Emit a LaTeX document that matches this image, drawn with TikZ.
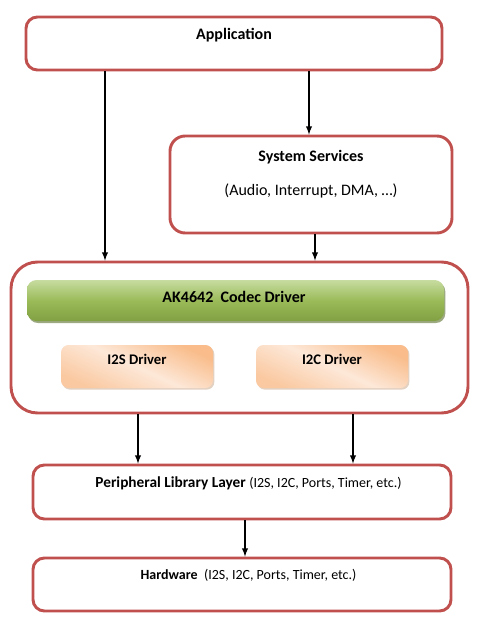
\documentclass[tikz,border=0pt]{standalone}
\usepackage{fontspec}
\setmainfont{Carlito}
\usetikzlibrary{calc,shadows}
\usetikzlibrary{arrows,shapes}

\definecolor{layerred}{RGB}{192,80,77}
\definecolor{codectop}{RGB}{198,220,160}
\definecolor{codecmid}{RGB}{155,187,89}
\definecolor{codecbot}{RGB}{128,160,66}
\definecolor{drvlight}{RGB}{253,232,216}
\definecolor{drvdark}{RGB}{249,188,138}

\tikzset{
  layer/.style={draw=layerred,line width=2.2pt,fill=white,rectangle},
  codec/.style={rectangle,rounded corners=2.5mm,top color=codectop,bottom color=codecbot,middle color=codecmid,
    drop shadow={shadow xshift=1pt,shadow yshift=-1.5pt,fill=codecbot!70!black,opacity=.6}},
  subdrv/.style={rectangle,rounded corners=2mm,top color=drvdark,bottom color=drvdark!70!drvlight,middle color=drvlight,shading angle=-25,
    drop shadow={shadow xshift=1pt,shadow yshift=-1.2pt,fill=drvdark!60!gray,opacity=.5}},
  flow/.style={-latex,line width=1.1pt,black},
  title/.style={font=\bfseries\fontsize{12}{14}\selectfont},
  note/.style={font=\fontsize{12}{14}\selectfont}
}

\begin{document}
\begin{tikzpicture}[x=0.75pt,y=-0.75pt]
    \useasboundingbox (0,0) rectangle (488,623);
    % layers
    \node [layer,rounded corners=3mm,minimum width=312pt,minimum height=39.75pt] (1) at (234,43.5) {};
    \node [layer,rounded corners=4mm,minimum width=211.5pt,minimum height=72.75pt] (2) at (311,184.5) {};
    \node [layer,rounded corners=7mm,minimum width=342.75pt,minimum height=113.25pt] (3) at (239.5,337.5) {};
    \node [layer,rounded corners=3mm,minimum width=313.5pt,minimum height=40.5pt] (4) at (242,492) {};
    \node [layer,rounded corners=3mm,minimum width=313.5pt,minimum height=39.75pt] (5) at (242,584.5) {};
    % drivers
    \node [codec,minimum width=312.75pt,minimum height=30.75pt] (6) at (235.5,300.5) {};
    \node [subdrv,minimum width=114pt,minimum height=32.25pt] (7) at (137,366.5) {};
    \node [subdrv,minimum width=114pt,minimum height=32.25pt] (8) at (332,366.5) {};
    % texts
    \node [title] at (234,35) {Application};
    \node [title] at (311,157) {System Services};
    \node [note] at (311,191) {(Audio, Interrupt, DMA, \dots)};
    \node [title] at (234,297) {AK4642\ \ Codec Driver};
    \node [title,font=\bfseries\fontsize{11}{13}\selectfont] at (137,359) {I2S Driver};
    \node [title,font=\bfseries\fontsize{11}{13}\selectfont] at (332,359) {I2C Driver};
    \node [font=\fontsize{11.5}{13}\selectfont] at (248.5,483) {\textbf{Peripheral Library Layer} {\fontsize{10.5}{12}\selectfont(I2S, I2C, Ports, Timer, etc.)}};
    \node [font=\fontsize{10.5}{12}\selectfont] at (248.5,575) {\textbf{Hardware}\ \ (I2S, I2C, Ports, Timer, etc.)};
    % arrows
    \draw [flow] (105,0 |- 1.south) -- (105,0 |- 3.north);
    \draw [flow] (309,0 |- 1.south) -- (309,0 |- 2.north);
    \draw [flow] (315,0 |- 2.south) -- (315,0 |- 3.north);
    \draw [flow] (138,0 |- 3.south) -- (138,0 |- 4.north);
    \draw [flow] (353,0 |- 3.south) -- (353,0 |- 4.north);
    \draw [flow] (245,0 |- 4.south) -- (245,0 |- 5.north);
\end{tikzpicture}
\end{document}
